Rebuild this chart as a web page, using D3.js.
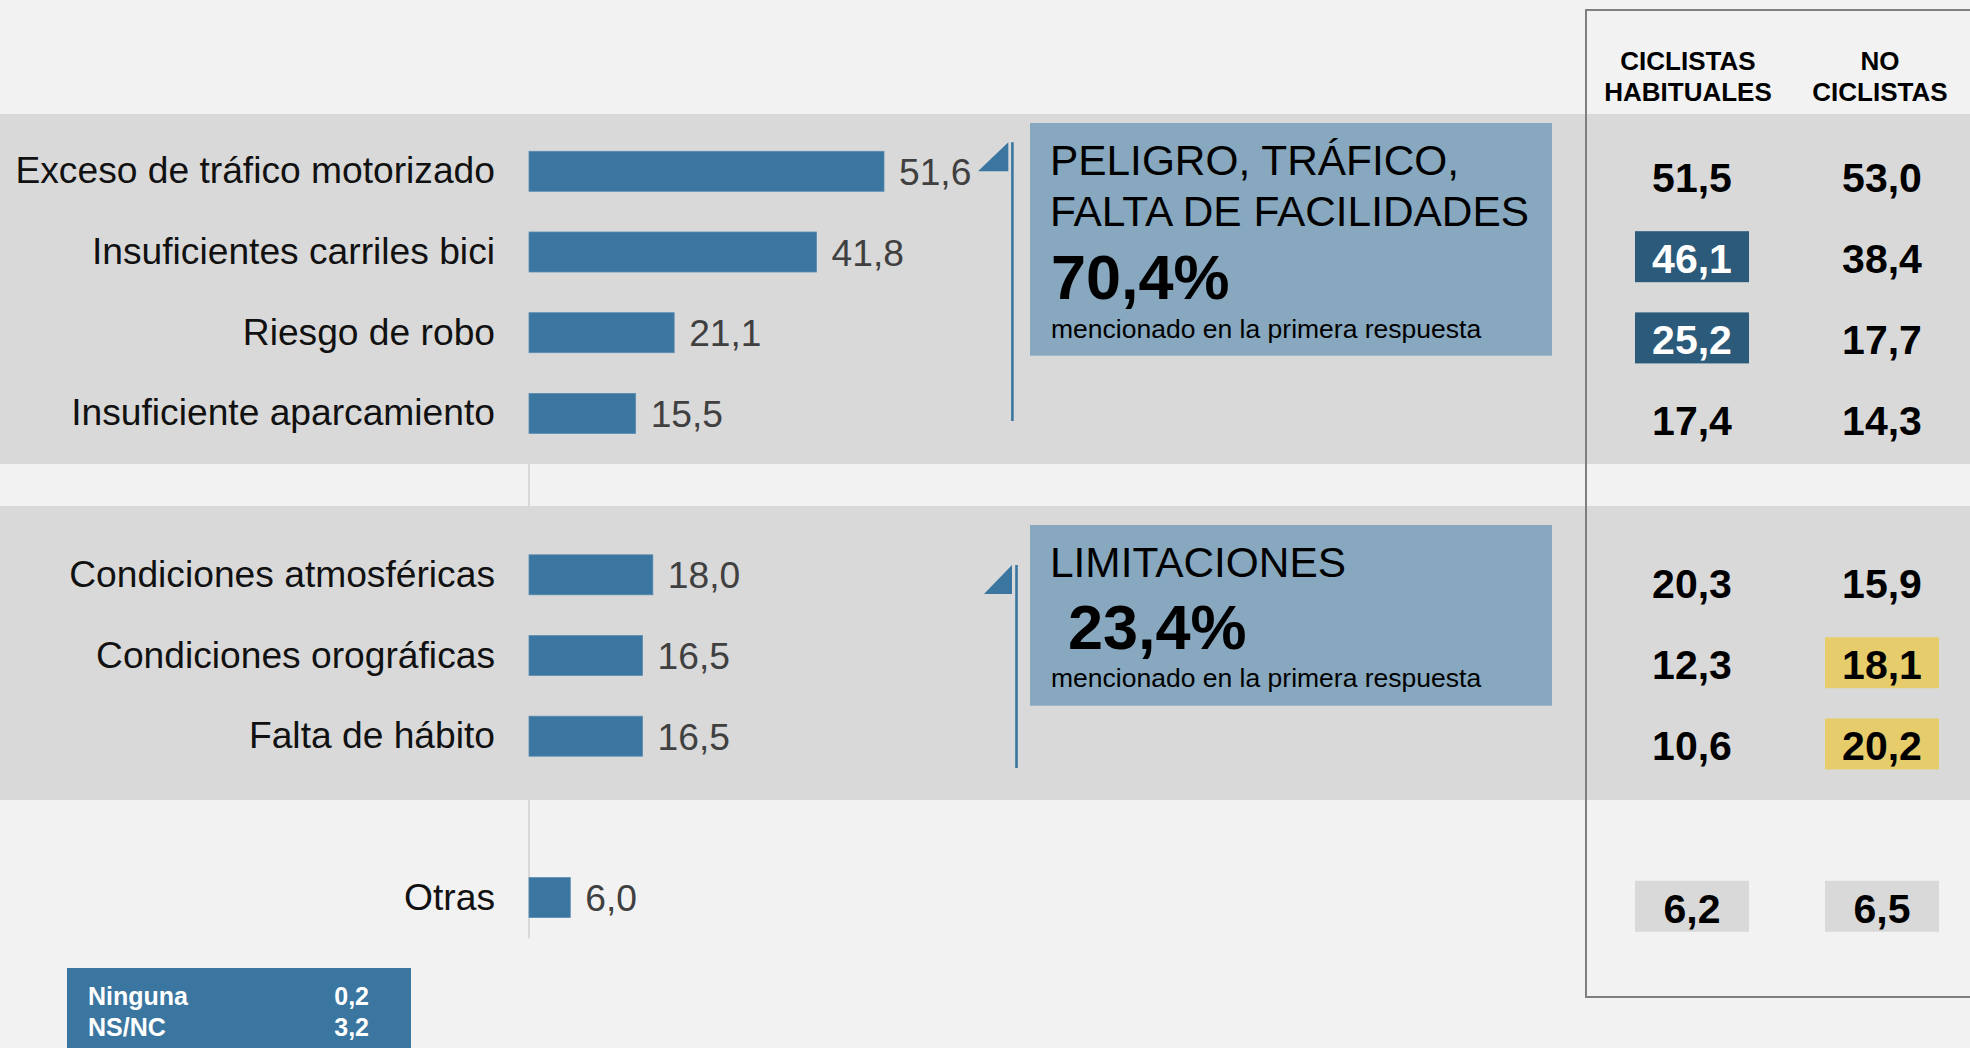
<!DOCTYPE html>
<html>
<head>
  <meta charset="utf-8">
  <style>
    body { margin: 0; background: #f2f2f2; }
    svg { display: block; font-family: "Liberation Sans", Arial, sans-serif; }
  </style>
  <title>Motivos para no usar la bicicleta</title>
</head>
<body>
  <script src="https://cdn.jsdelivr.net/npm/d3@7"></script>
  <script>
    // data
    var categories = ["Exceso de tráfico motorizado", "Insuficientes carriles bici", "Riesgo de robo",
      "Insuficiente aparcamiento", "Condiciones atmosféricas", "Condiciones orográficas",
      "Falta de hábito", "Otras"];
    var groups = ["A", "A", "A", "A", "B", "B", "B", "C"];
    var totals = [51.6, 41.8, 21.1, 15.5, 18.0, 16.5, 16.5, 6.0];
    var habituales = [51.5, 46.1, 25.2, 17.4, 20.3, 12.3, 10.6, 6.2];
    var noCiclistas = [53.0, 38.4, 17.7, 14.3, 15.9, 18.1, 20.2, 6.5];
    // highlight of table cells: "" none, "blue", "yellow", "gray"
    var habitualesMark = ["", "blue", "blue", "", "", "", "", "gray"];
    var noCiclistasMark = ["", "", "", "", "", "yellow", "yellow", "gray"];
    var columnHeaders = [["CICLISTAS", "HABITUALES"], ["NO", "CICLISTAS"]];
    var groupTitles = [["PELIGRO, TRÁFICO,", "FALTA DE FACILIDADES"], ["LIMITACIONES"]];
    var groupShares = ["70,4%", "23,4%"];
    var groupNote = "mencionado en la primera respuesta";
    var otherLabels = ["Ninguna", "NS/NC"];
    var otherValues = [0.2, 3.2];

    var width = 1970, height = 1048;
    var fmt = function(v) { return v.toFixed(1).replace(".", ","); };
    var markColor = { blue: "#2c5a7a", yellow: "#e6cc6a", gray: "#d9d9d9" };

    var svg = d3.select("body").append("svg")
      .attr("width", width).attr("height", height);

    // row slots, with an empty slot between groups
    var slots = [];
    categories.forEach(function(c, i) {
      if (i > 0 && groups[i] !== groups[i - 1]) slots.push("gap" + i);
      slots.push(c);
    });

    var y = d3.scalePoint().domain(slots).range([171.3, 897.6]);
    var yt = d3.scalePoint().domain(slots).range([177, 907.8]);
    var x = d3.scaleLinear().domain([0, 51.6]).range([529, 884]);

    // background bands for groups A and B
    var bands = [
      { top: y(categories[0]) - 57.3, bottom: y(categories[3]) + 50.6 },
      { top: y(categories[4]) - 68.8, bottom: y(categories[6]) + 63.8 }
    ];

    // baseline line
    svg.append("line")
      .attr("x1", x(0)).attr("x2", x(0))
      .attr("y1", bands[0].top).attr("y2", y("Otras") + 41)
      .attr("stroke", "#d9d9d9").attr("stroke-width", 2);

    svg.selectAll("rect.band").data(bands).enter().append("rect")
      .attr("class", "band")
      .attr("x", 0).attr("width", width)
      .attr("y", function(d) { return d.top; })
      .attr("height", function(d) { return d.bottom - d.top; })
      .attr("fill", "#d9d9d9");

    // table frame
    var tableX = 1586, tableTop = 10, tableBottom = 997;
    svg.append("path")
      .attr("d", "M" + width + "," + tableTop + "H" + tableX + "V" + tableBottom + "H" + width)
      .attr("fill", "none").attr("stroke", "#7f7f7f").attr("stroke-width", 2);

    // bars
    var rows = categories.map(function(c, i) {
      return { cat: c, total: totals[i], hab: habituales[i], no: noCiclistas[i],
               habMark: habitualesMark[i], noMark: noCiclistasMark[i] };
    });

    svg.selectAll("rect.bar").data(rows).enter().append("rect")
      .attr("class", "bar")
      .attr("x", x(0))
      .attr("y", function(d) { return y(d.cat) - 20; })
      .attr("width", function(d) { return x(d.total) - x(0); })
      .attr("height", 40)
      .attr("fill", "#3a76a0")
      .attr("stroke", "#5b8db3").attr("stroke-width", 0.8);

    svg.selectAll("text.cat").data(rows).enter().append("text")
      .attr("class", "cat")
      .attr("x", 495)
      .attr("y", function(d) { return y(d.cat) + 12; })
      .attr("text-anchor", "end")
      .attr("font-size", 37.2)
      .attr("fill", "#111")
      .text(function(d) { return d.cat; });

    svg.selectAll("text.val").data(rows).enter().append("text")
      .attr("class", "val")
      .attr("x", function(d) { return x(d.total) + 15; })
      .attr("y", function(d) { return y(d.cat) + 13.6; })
      .attr("font-size", 37.2)
      .attr("fill", "#404040")
      .text(function(d) { return fmt(d.total); });

    // group annotation boxes
    var boxes = [
      { top: 123, bottom: 355.7, tri: [978, 142.3, 1008.3, 171.3], line: [1012.4, 142.3, 421],
        titleY: [175, 226], shareX: 1051, shareY: 299.3, noteY: 338.3 },
      { top: 525, bottom: 705.7, tri: [984, 565, 1012, 594], line: [1016.5, 565, 768],
        titleY: [576.7], shareX: 1068, shareY: 649.3, noteY: 687.3 }
    ];

    boxes.forEach(function(b, i) {
      svg.append("path")
        .attr("d", "M" + b.tri[0] + "," + b.tri[3] + "L" + b.tri[2] + "," + b.tri[1] + "L" + b.tri[2] + "," + b.tri[3] + "Z")
        .attr("fill", "#3a76a0");
      svg.append("line")
        .attr("x1", b.line[0]).attr("x2", b.line[0])
        .attr("y1", b.line[1]).attr("y2", b.line[2])
        .attr("stroke", "#3a76a0").attr("stroke-width", 2.6);
      svg.append("rect")
        .attr("x", 1030).attr("y", b.top)
        .attr("width", 522).attr("height", b.bottom - b.top)
        .attr("fill", "#87a8be");
      groupTitles[i].forEach(function(t, j) {
        svg.append("text")
          .attr("x", 1050).attr("y", b.titleY[j])
          .attr("font-size", 42.4).attr("fill", "#000")
          .text(t);
      });
      svg.append("text")
        .attr("x", b.shareX).attr("y", b.shareY)
        .attr("font-size", 63).attr("font-weight", "bold").attr("fill", "#000")
        .text(groupShares[i]);
      svg.append("text")
        .attr("x", 1051).attr("y", b.noteY)
        .attr("font-size", 26.5).attr("fill", "#000")
        .text(groupNote);
    });

    // table headers
    var headX = [1688, 1880];
    columnHeaders.forEach(function(h, i) {
      h.forEach(function(t, j) {
        svg.append("text")
          .attr("x", headX[i]).attr("y", 70 + j * 30.7)
          .attr("text-anchor", "middle")
          .attr("font-size", 26).attr("font-weight", "bold").attr("fill", "#000")
          .text(t);
      });
    });

    // table columns
    var cols = [
      { cx: 1692, key: "hab", mark: "habMark" },
      { cx: 1882, key: "no", mark: "noMark" }
    ];
    cols.forEach(function(c) {
      var g = svg.append("g");
      g.selectAll("rect").data(rows.filter(function(d) { return d[c.mark] !== ""; }))
        .enter().append("rect")
        .attr("x", c.cx - 57).attr("width", 114)
        .attr("y", function(d) { return yt(d.cat) - 27; })
        .attr("height", 51)
        .attr("fill", function(d) { return markColor[d[c.mark]]; });
      g.selectAll("text").data(rows).enter().append("text")
        .attr("x", c.cx)
        .attr("y", function(d) { return yt(d.cat) + 14.7; })
        .attr("text-anchor", "middle")
        .attr("font-size", 41).attr("font-weight", "bold")
        .attr("fill", function(d) { return d[c.mark] === "blue" ? "#fff" : "#000"; })
        .text(function(d) { return fmt(d[c.key]); });
    });

    // other answers box
    svg.append("rect")
      .attr("x", 67).attr("y", 968)
      .attr("width", 344).attr("height", height - 968)
      .attr("fill", "#3a76a0");
    otherLabels.forEach(function(t, i) {
      svg.append("text")
        .attr("x", 88).attr("y", 1005 + i * 31)
        .attr("font-size", 25).attr("font-weight", "bold").attr("fill", "#fff")
        .text(t);
      svg.append("text")
        .attr("x", 369).attr("y", 1005 + i * 31)
        .attr("text-anchor", "end")
        .attr("font-size", 25).attr("font-weight", "bold").attr("fill", "#fff")
        .text(fmt(otherValues[i]));
    });
  </script>
</body>
</html>
